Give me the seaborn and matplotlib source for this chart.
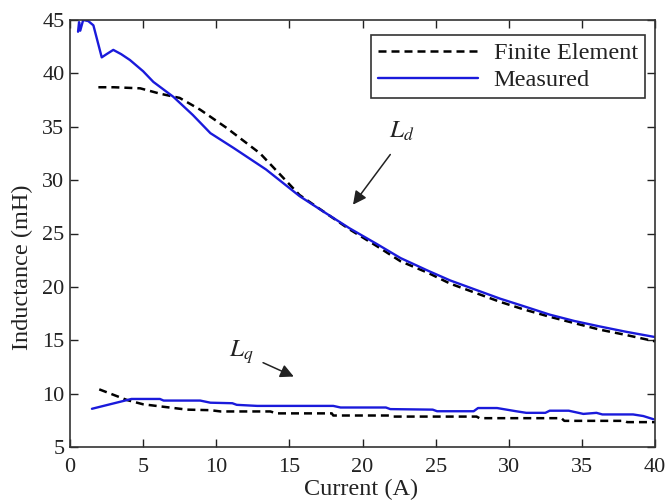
import matplotlib
matplotlib.use("Agg")
import matplotlib.pyplot as plt
import seaborn as sns
import pandas as pd

# ---- data ----
ld_meas_x = [0.55, 0.62, 0.7, 0.9, 1.25, 1.6, 2.17, 2.5, 2.96, 3.5, 4.1, 5.0, 5.7, 7.07, 8.4, 9.6,
             11.2, 13.4, 15.7, 17.5, 19.1, 21, 22.6, 24.5, 26, 28, 29.4, 31, 32.8, 34.5, 36.2, 38, 40]
ld_meas_y = [43.9, 44.8, 44.0, 45.0, 44.9, 44.5, 41.5, 41.8, 42.2, 41.8, 41.25, 40.2, 39.2, 37.8, 36.1, 34.4,
             33.0, 31.0, 28.5, 26.9, 25.5, 24.0, 22.7, 21.5, 20.6, 19.6, 18.9, 18.2, 17.4, 16.8, 16.3, 15.8, 15.3]

ld_fe_x = [1.94, 3, 4.8, 6.15, 7.5, 8.9, 10.7, 13, 15.7, 17.5, 19.1, 21, 22.6, 24.5, 26, 28, 29.4,
           31, 32.8, 34.5, 36.2, 38, 40]
ld_fe_y = [38.7, 38.7, 38.6, 38.1, 37.7, 36.6, 34.9, 32.5, 28.6, 26.9, 25.4, 23.8, 22.4, 21.3, 20.3, 19.3, 18.6,
           17.9, 17.2, 16.6, 16.0, 15.5, 14.9]

lq_meas_x = [1.5, 4.2, 6.15, 6.4, 8.9, 9.6, 11.1, 11.4, 12.8, 18, 18.5, 21.6, 21.9, 24.8, 25.1, 27.6, 27.9,
             29.2, 30.5, 31.2, 32.5, 32.8, 34.1, 35.1, 36, 36.4, 38.5, 39.2, 39.9]
lq_meas_y = [8.58, 9.5, 9.5, 9.35, 9.35, 9.15, 9.1, 8.95, 8.85, 8.85, 8.7, 8.7, 8.55, 8.5, 8.35, 8.35, 8.65,
             8.65, 8.35, 8.2, 8.2, 8.4, 8.4, 8.1, 8.2, 8.05, 8.05, 7.9, 7.6]

lq_fe_x = [2.0, 3.9, 5.0, 8.0, 9.6, 10.3, 13.7, 14.1, 17.9, 18.0, 21.9, 22.1, 27.8, 28.0, 33.6, 33.8, 37.9, 38.1, 40]
lq_fe_y = [10.4, 9.4, 9.0, 8.5, 8.45, 8.33, 8.33, 8.15, 8.15, 7.95, 7.95, 7.85, 7.85, 7.7, 7.7, 7.45, 7.45, 7.33, 7.33]

x_ticks = [0, 5, 10, 15, 20, 25, 30, 35, 40]
y_ticks = [5, 10, 15, 20, 25, 30, 35, 40, 45]
legend_labels = ["Finite Element", "Measured"]

# ---- style ----
sns.set_style("ticks")
plt.rcParams["font.family"] = ["Liberation Serif", "DejaVu Serif"]
plt.rcParams["mathtext.fontset"] = "stix"

fig = plt.figure(figsize=(6.67, 5.04), dpi=100)
ax = fig.add_axes([70 / 667, 57 / 504, 585 / 667, 427 / 504])

blue = "#1a1adb"
dash = (3.2, 2.0)
txt = "#222222"

sns.lineplot(x=ld_fe_x, y=ld_fe_y, ax=ax, color="black", lw=1.8, estimator=None,
             label=legend_labels[0], linestyle=(0, dash))
sns.lineplot(x=ld_meas_x, y=ld_meas_y, ax=ax, color=blue, lw=1.7, estimator=None, sort=False,
             label=legend_labels[1])
sns.lineplot(x=lq_fe_x, y=lq_fe_y, ax=ax, color="black", lw=1.8, estimator=None,
             linestyle=(0, dash), legend=False)
sns.lineplot(x=lq_meas_x, y=lq_meas_y, ax=ax, color=blue, lw=1.7, estimator=None,
             legend=False)

ax.set_xlim(0, 40)
ax.set_ylim(5, 45)
ax.set_xticks(x_ticks)
ax.set_yticks(y_ticks)
ax.tick_params(direction="in", length=6, width=1, labelsize=16, colors=txt,
               top=True, right=True)
ax.tick_params(axis="x", pad=8)
ax.tick_params(axis="y", pad=4)
for s in ax.spines.values():
    s.set_visible(True)
    s.set_color("#333333")
    s.set_linewidth(1.2)

ax.set_xlabel("Current (A)", fontsize=17.5, color=txt)
ax.xaxis.set_label_coords(0.498, -0.074)
ax.set_ylabel("Inductance (mH)", fontsize=17.5, color=txt)
ax.yaxis.set_label_coords(-0.064, 0.42)

leg = ax.legend(loc="upper right", bbox_to_anchor=(0.983, 0.965), borderaxespad=0,
                fontsize=17.5, handlelength=4.1, handletextpad=0.65, labelspacing=0.2,
                borderpad=0.3, fancybox=False, framealpha=1, edgecolor="#333333")
leg.get_frame().set_linewidth(1.2)
for t in leg.get_texts():
    t.set_color(txt)

arrow_kw = dict(arrowstyle="-|>", color=txt, lw=1.1, mutation_scale=20, shrinkA=0, shrinkB=0)
ax.annotate("", xy=(19.35, 27.7), xytext=(21.9, 32.4), arrowprops=arrow_kw)
ax.text(22.7, 34.6, "$L_d$", fontsize=18, ha="center", va="center", color=txt)
ax.annotate("", xy=(15.3, 11.6), xytext=(13.2, 12.9), arrowprops=arrow_kw)
ax.text(11.7, 13.9, "$L_q$", fontsize=18, ha="center", va="center", color=txt)

fig.savefig("out.png", dpi=100)
